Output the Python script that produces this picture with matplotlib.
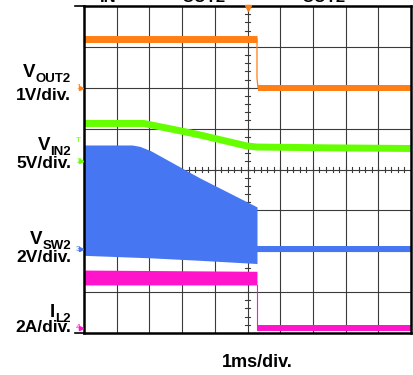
import numpy as np
import matplotlib
matplotlib.use("Agg")
import matplotlib.pyplot as plt
from matplotlib.lines import Line2D

plt.rcParams['font.family'] = ['Liberation Sans', 'DejaVu Sans']

# scope setup: 10 x 8 divisions, 1 ms/div
n_xdiv, n_ydiv = 10, 8
t_off = 5.29  # ms, moment the output shuts down

# channel scale (units/div) and ground level (div)
ch_scale = {'vout2': 1.0, 'vin2': 5.0, 'sw2': 2.0, 'il2': 2.0}
ch_ground = {'vout2': 6.0, 'vin2': 4.2, 'sw2': 2.05, 'il2': 0.13}

# VOUT2 (V)
vout2_on = 1.19
vout2_drop = 0.24
vout2_off = 0.0

# VIN2 (V)
vin2_t = [0, 1.83, 2.97, 3.55, 4.98, 5.29, 7.5, 10]
vin2_v = [4.63, 4.63, 3.71, 3.22, 1.88, 1.75, 1.65, 1.57]

# VSW2 switching envelope (V)
sw2_top_t = [0, 1.47, 1.71, 2.05, 3.55, 5.29]
sw2_top_v = [5.10, 5.10, 5.03, 4.81, 3.48, 2.07]
sw2_bot_t = [0, 2.5, 5.29]
sw2_bot_v = [-0.30, -0.45, -0.70]
sw2_off = 0.0

# IL2 ripple band (A)
il2_hi = [2.82, 2.76]
il2_lo = [2.09, 2.09]
il2_off = 0.0

c_or = '#FF7F14'
c_gr = '#66FF00'
c_bl = '#4676F2'
c_mg = '#FF14CC'


def to_div(ch, v):
    return ch_ground[ch] + np.asarray(v, dtype=float) / ch_scale[ch]


W, H = 413, 375
fig = plt.figure(figsize=(W / 100, H / 100), dpi=100)


def fx(x):
    return x / W


def fy(y):
    return 1 - y / H


ax = fig.add_axes([fx(84), fy(333), fx(411) - fx(84), fy(6) - fy(333)])
ax.set_xlim(0, n_xdiv)
ax.set_ylim(0, n_ydiv)
ax.set_xticks([])
ax.set_yticks([])
for s in ax.spines.values():
    s.set_linewidth(1.8)
    s.set_zorder(10)

# graticule
for i in range(1, n_xdiv):
    ax.axvline(i, color='#3a3a3a', lw=0.8, zorder=1)
for j in range(1, n_ydiv):
    ax.axhline(j, color='#3a3a3a', lw=0.8, zorder=1)
for k in np.arange(0.2, n_xdiv, 0.2):
    ax.plot([k, k], [n_ydiv / 2 - 0.06, n_ydiv / 2 + 0.06], color='#3a3a3a', lw=0.8, zorder=1)
for k in np.arange(0.2, n_ydiv, 0.2):
    ax.plot([n_xdiv / 2 - 0.08, n_xdiv / 2 + 0.08], [k, k], color='#3a3a3a', lw=0.8, zorder=1)

# IL2
ax.fill_between([0, t_off], to_div('il2', il2_lo), to_div('il2', il2_hi),
                color=c_mg, lw=0, zorder=3)
ax.plot([t_off, t_off], [to_div('il2', il2_lo[-1]), to_div('il2', il2_off)],
        color=c_mg, lw=0.8, zorder=3)
ax.plot([t_off, n_xdiv], to_div('il2', [il2_off, il2_off]), color=c_mg, lw=4.3,
        solid_capstyle='butt', zorder=3)

# VSW2
ax.fill_between(sw2_top_t, to_div('sw2', sw2_top_v),
                to_div('sw2', np.interp(sw2_top_t, sw2_bot_t, sw2_bot_v)),
                color=c_bl, lw=0, zorder=4)
ax.plot([t_off, n_xdiv], to_div('sw2', [sw2_off, sw2_off]), color=c_bl, lw=4.3,
        solid_capstyle='butt', zorder=4)

# VIN2
ax.plot(vin2_t, to_div('vin2', vin2_v), color=c_gr, lw=5, solid_capstyle='butt', zorder=5)

# VOUT2
ax.plot([0, t_off], to_div('vout2', [vout2_on, vout2_on]), color=c_or, lw=5,
        solid_capstyle='butt', zorder=6)
ax.plot([t_off, t_off, t_off + 0.03], to_div('vout2', [vout2_on, vout2_drop, vout2_off]),
        color=c_or, lw=0.9, zorder=6)
ax.plot([t_off + 0.03, n_xdiv], to_div('vout2', [vout2_off, vout2_off]), color=c_or, lw=4.3,
        solid_capstyle='butt', zorder=6)

# trigger marker
ax.plot([n_xdiv / 2], [n_ydiv - 0.05], marker='v', ms=5, color=c_or, clip_on=False, zorder=11)

# ground markers on the left edge
for num, ch, col in [('1', 'vout2', c_or), ('2', 'vin2', c_gr), ('3', 'sw2', c_bl), ('4', 'il2', c_mg)]:
    yd = ch_ground[ch]
    ax.text(-0.1, yd, num, color=col, fontsize=6, ha='right', va='center', clip_on=False)
    ax.plot([-0.08], [yd], marker='>', ms=3, color=col, clip_on=False, zorder=11)
ax.text(-0.1, 4.7, 'T', color=c_gr, fontsize=6, ha='right', va='center', clip_on=False)

# short leader lines at top-left and bottom-left of the frame
for yy in (6, 333):
    fig.add_artist(Line2D([fx(75), fx(84)], [fy(yy), fy(yy)], color='black', lw=1.2))

# channel labels: main letter, subscript and scale
labels = [
    ('V', 'OUT2', 77, '1V/div.', 100),
    ('V', 'IN2', 150, '5V/div.', 168),
    ('V', 'SW2', 244, '2V/div.', 262),
    ('I', 'L2', 317, '2A/div.', 332),
]
renderer = fig.canvas.get_renderer()
for main, sub, y1, scale, y2 in labels:
    st = fig.text(fx(71), fy(y1 + 5), sub, fontsize=9.5, fontweight='bold',
                  ha='right', va='baseline')
    w = st.get_window_extent(renderer).width
    fig.text(fx(71 - w - 0.5), fy(y1), main, fontsize=13.5, fontweight='bold',
             ha='right', va='baseline')
    fig.text(fx(71), fy(y2), scale, fontsize=12.5, fontweight='bold', ha='right', va='baseline')

# channel names above the frame (mostly out of view)
for txt, x in [('IN', 108), ('OUT2', 203), ('OUT2', 323)]:
    fig.text(fx(x), fy(2), txt, fontsize=12, fontweight='bold', ha='center', va='baseline')

fig.text(fx(257), fy(367), '1ms/div.', fontsize=13, fontweight='bold', ha='center', va='baseline')

fig.savefig('out.png', dpi=100)
